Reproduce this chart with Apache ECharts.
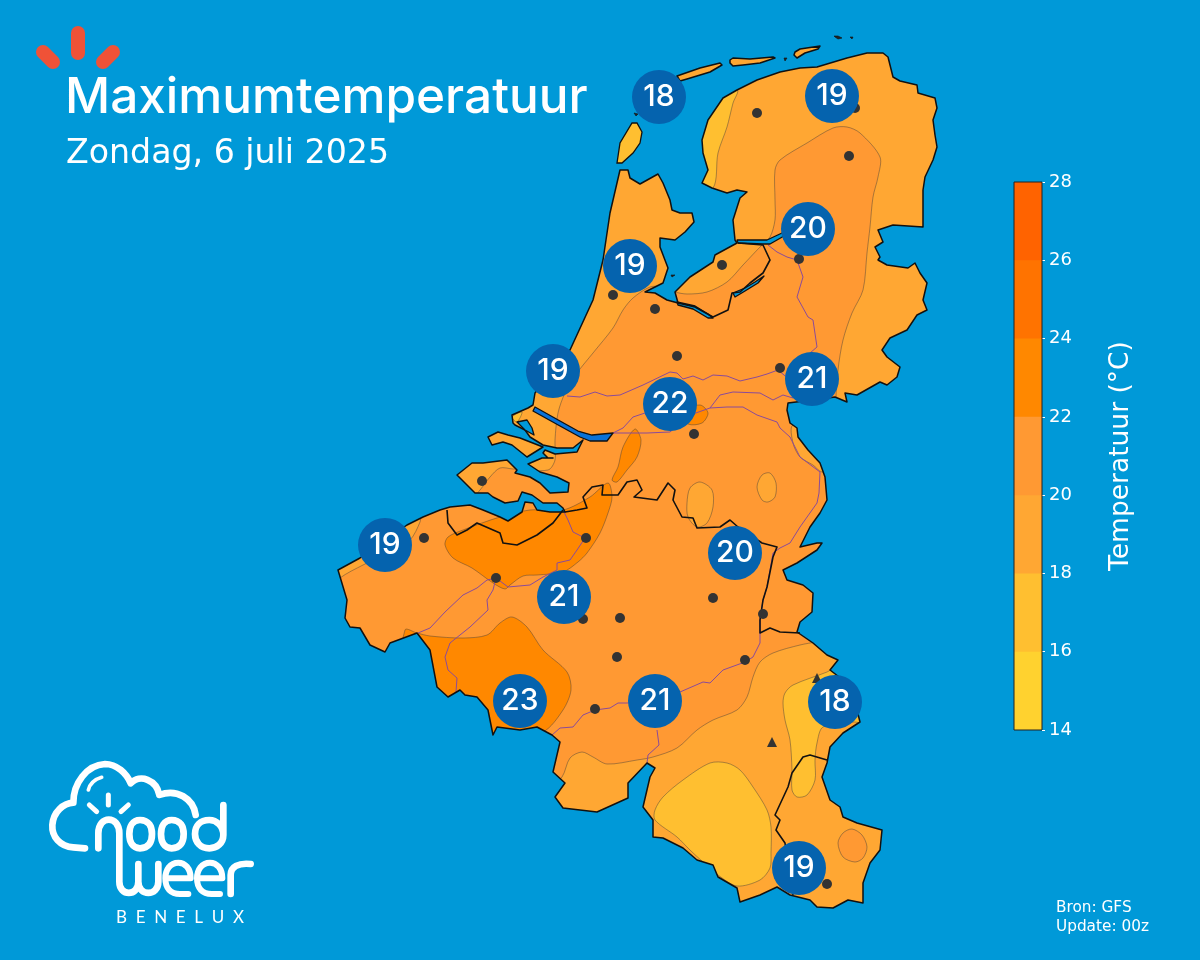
<!DOCTYPE html>
<html>
<head>
<meta charset="utf-8">
<style>html,body{margin:0;padding:0;background:#0099d8}#main{width:1200px;height:960px}</style>
<script src="https://cdn.jsdelivr.net/npm/echarts@6/dist/echarts.min.js"></script>
</head>
<body>
<div id="main"></div>
<script>
// 地图单位: 0-1200 / 0-960 的平面坐标
var landMain = [
[338,570],[360,558],[407,525],[423,517],[440,510],[450,507],[470,505],[483,510],[500,517],[508,521],[522,512],[525,502],[533,503],[537,510],[550,512],[565,512],
[563,508],[557,503],[543,503],[532,495],[522,492],[518,501],[505,503],[493,497],[488,493],[475,493],[457,475],[472,463],[483,463],[507,460],[517,470],[515,473],
[530,477],[540,483],[550,493],[568,492],[569,483],[557,477],[540,472],[528,464],[542,458],[553,458],[548,458],[543,453],[545,450],[555,454],[577,452],[583,440],
[573,448],[557,448],[543,445],[530,437],[525,430],[515,425],[513,423],[512,415],[528,408],[533,405],[535,393],[570,350],[593,300],[603,260],
[610,213],[620,170],[628,170],[630,178],[640,184],[658,174],[663,183],[670,200],[672,210],[680,213],[692,213],[694,222],[685,232],[675,240],[660,238],[660,247],
[668,268],[663,283],[655,287],[645,292],[655,293],[667,300],[678,303],[675,292],[690,277],[713,262],[715,255],[737,243],[735,240],[733,220],[740,198],[747,192],
[737,190],[727,193],[712,188],[702,183],[708,170],[703,153],[702,140],[708,120],[723,98],[737,90],[757,80],[780,72],[800,68],[817,67],[847,58],[867,53],[883,53],
[888,57],[893,77],[900,81],[917,85],[918,93],[935,98],[937,108],[933,120],[935,135],[937,147],[933,160],[925,177],[923,190],[923,227],[893,225],[878,230],[883,242],
[875,247],[880,257],[878,260],[887,265],[908,268],[915,263],[920,273],[927,283],[923,300],[927,310],[917,315],[907,330],[890,338],[882,350],[887,357],[900,367],
[897,377],[887,385],[880,382],[857,395],[845,393],[847,402],[835,397],[812,400],[788,403],[787,410],[790,423],[797,428],[798,437],[808,450],[820,463],[825,477],
[827,500],[820,513],[810,527],[800,547],[817,543],[822,543],[817,550],[797,563],[783,570],[787,580],[803,585],[813,593],[812,612],[800,622],[797,632],[813,643],[827,655],[838,660],
[830,670],[843,680],[852,690],[860,722],[843,733],[830,747],[827,763],[822,777],[830,800],[840,807],[843,817],[857,823],[882,830],[880,850],[870,863],[863,883],
[863,903],[848,900],[833,908],[817,907],[810,900],[790,895],[777,887],[760,895],[740,902],[737,888],[718,877],[713,865],[697,860],[683,848],[663,838],[653,837],
[653,820],[643,807],[650,777],[655,768],[647,763],[628,783],[628,798],[597,812],[563,808],[555,797],[565,783],[553,772],[560,742],[552,735],[537,727],[520,730],
[497,727],[493,735],[488,710],[477,697],[465,695],[460,690],[448,697],[437,687],[430,650],[417,633],[390,643],[385,652],[370,645],[360,628],[350,627],[345,618],[347,600]
];
var schouwen = [[488,437],[498,432],[508,435],[520,438],[543,447],[527,457],[512,445],[503,442],[492,445]];
var texel = [[617,163],[620,143],[632,123],[637,123],[642,132],[640,143],[633,153],[622,163]];
var vlieland = [[677,76],[700,68],[720,63],[722,65],[710,72],[687,79],[680,81]];
var terschelling = [[730,60],[733,58],[750,59],[773,57],[775,58],[760,63],[743,65],[733,66],[730,63]];
var ameland = [[795,52],[800,49],[820,46],[818,49],[805,53],[797,58],[794,55]];
var darkSpecks = [[[834,36],[838,36],[842,38],[838,39],[835,37]],[[850,37],[853,37],[852,39]],[[784,58],[787,58],[785,61]],[[634,113],[638,114],[636,116]],[[671,275],[675,275],[672,277]]];
var waters = [
  [[737,240],[767,240],[782,233],[784,236],[770,244],[763,244],[738,243]],
  [[733,293],[745,288],[755,282],[764,276],[758,283],[745,291],[735,297]],
  [[677,302],[695,306],[708,314],[713,318],[708,318],[693,309],[678,305]],
  [[517,422],[527,420],[532,428],[534,435],[525,430]]
];
var riverMouth = [[535,407],[560,421],[578,431],[592,435],[613,433],[607,441],[590,441],[580,437],[560,426],[533,411]];

// 等温带 (每块的下限温度)
var bandColors = ['#ffd22f','#ffbf30','#ffa733','#ff9933','#ff8800','#ff7300','#ff6300'];
var bandEdges = [14,16,18,20,22,24,26,28];
var band20Main = [[300,600],[330,590],[340,578],[363,565],[390,552],[410,540],[420,522],[423,508],[470,500],[480,490],[490,477],[500,468],[513,469],[548,470],[555,460],[555,440],[558,413],[565,393],[577,373],[593,353],[613,328],[623,310],[633,298],[650,287],[662,287],[675,292],[687,294],[707,292],[727,282],[743,265],[760,247],[770,237],[775,220],[775,200],[775,170],[780,160],[807,143],[833,128],[847,127],[860,133],[880,157],[878,177],[873,197],[870,227],[867,253],[863,290],[852,313],[843,340],[838,370],[836,400],[838,410],[838,640],[817,642],[800,645],[773,653],[760,662],[753,677],[747,697],[737,710],[713,720],[697,730],[677,748],[653,757],[637,760],[607,764],[593,757],[582,752],[570,758],[562,777],[550,785],[300,785]];
var band20Lux = [[838,843],[843,833],[852,829],[862,835],[867,847],[863,858],[855,862],[843,857]];
var band18Brabant = [[687,503],[690,488],[700,482],[712,490],[713,507],[707,523],[697,527],[688,517]];
var band18Peel = [[757,487],[762,475],[770,473],[776,483],[775,497],[768,502],[762,500]];
var band18Limburg = [[793,425],[793,443],[800,457],[813,465],[822,472],[840,470],[830,425]];
var band22Flanders = [[445,545],[448,537],[463,530],[500,517],[530,510],[563,510],[590,497],[608,483],[612,497],[608,513],[600,533],[587,553],[578,562],[563,572],[537,575],[523,576],[510,585],[505,589],[493,583],[472,568],[453,558]];
var band22Sliver = [[612,480],[618,467],[623,447],[635,429],[641,440],[637,457],[627,470],[617,482]];
var band22Rhine = [[700,405],[708,413],[702,423],[688,424],[680,412]];
var band22Hainaut = [[417,633],[430,636],[463,638],[487,635],[500,623],[512,617],[527,627],[543,650],[567,672],[571,690],[563,710],[543,732],[490,745],[400,700],[405,630]];
var band16Friesland = [[737,90],[733,103],[727,127],[718,153],[713,188],[690,190],[690,90]];
var band16Gaume = [[655,810],[663,797],[683,780],[710,763],[727,763],[740,770],[753,787],[767,810],[771,827],[771,853],[770,868],[760,880],[737,886],[718,875],[703,862],[690,850],[677,837],[655,820]];
var band16Venn = [[783,703],[785,693],[793,685],[827,672],[842,665],[870,700],[865,722],[853,722],[823,727],[817,743],[815,760],[815,780],[807,795],[797,797],[792,790],[792,770],[790,740],[785,720]];
var band16Goeree = [[512,417],[522,412],[517,422]];
var contourAreas = [
  [3, band20Main],[2, band18Brabant],[2, band18Peel],[2, band18Limburg],
  [4, band22Flanders],[4, band22Sliver],[4, band22Rhine],[4, band22Hainaut],
  [1, band16Friesland],[1, band16Gaume],[1, band16Venn],[1, band16Goeree],[3, band20Lux]
];

var rivers = [
  [[567,396],[580,397],[595,392],[607,396],[620,395],[643,385],[670,372],[677,373],[683,379],[693,376],[703,380],[713,375],[727,376],[740,381],[757,377],[767,374],[778,370],[790,380]],
  [[793,398],[783,395],[773,400],[760,393],[733,392],[720,395],[710,408],[690,415],[670,432],[647,433],[613,433]],
  [[613,433],[623,428],[633,417],[645,413]],
  [[710,408],[727,407],[743,407],[757,415],[777,422],[780,428],[790,437],[800,457],[820,472],[819,493],[817,503],[800,527],[790,543],[780,548],[773,553],[767,587],[763,600],[760,620],[760,643],[753,657],[745,662],[723,670],[710,683],[703,682],[680,692],[655,701],[627,703],[618,703],[610,708],[595,710],[583,715],[573,727],[560,728],[552,735]],
  [[657,730],[659,745],[648,755],[647,763]],
  [[563,510],[568,520],[573,532],[585,538],[577,550],[570,560],[557,563],[557,570],[543,577],[530,585],[508,587],[496,578],[487,580],[477,588],[463,595],[445,612],[430,628],[418,633]],
  [[496,578],[493,590],[487,600],[488,610],[470,627],[450,643],[445,657],[448,670],[457,678],[456,692]],
  [[768,245],[777,252],[787,257],[797,260],[803,277],[797,297],[808,317],[813,320],[817,347],[810,353]]
];
var borders = [
  [[447,510],[448,523],[457,535],[467,530],[477,523],[500,533],[503,543],[517,545],[537,535],[553,523],[563,510]],
  [[565,512],[577,510],[587,508],[583,497],[592,487],[603,485],[602,495],[618,495],[627,482],[637,480],[642,490],[634,497],[657,500],[668,483],[675,490],[673,500],[682,517],[693,518],[697,528],[720,527],[730,520],[738,527],[762,543],[777,547],[773,557],[767,587],[763,600],[760,620],[760,633],[770,628],[780,632],[800,633]],
  [[827,760],[810,755],[803,757],[792,773],[788,787],[775,815],[780,820],[776,830],[785,843],[793,895]],
  [[738,243],[763,245],[770,260],[763,273],[750,283],[740,292],[732,293],[728,310],[713,317],[695,307],[678,303]]
];

var cities = [[757,113],[855,108],[849,156],[799,259],[722,265],[613,295],[655,309],[677,356],[780,368],[694,434],[482,481],[424,538],[586,538],[496,578],[583,619],[620,618],[713,598],[763,614],[617,657],[745,660],[595,709],[827,884]];
var peaks = [[772,742],[817,678]];
var badgeSpots = [[659,97],[832,96],[808,229],[630,266],[553,371],[670,404],[812,379],[735,553],[385,545],[564,597],[520,701],[655,701],[835,702],[799,868]];
var badgeTemps = [18,19,20,19,19,22,21,20,19,21,23,21,18,19];

var bgColor = '#0099d8';
var mapColor = bandColors[2];

var myChart = echarts.init(document.getElementById('main'));

function pts(api, list) {
    return list.map(function (p) { return api.coord(p); });
}

// 一组多边形/折线 -> 一个 custom series
function shapes(name, list, z, makeStyle, type, clipTo, smooth) {
    return {
        name: name,
        type: 'custom',
        xAxisIndex: 0,
        yAxisIndex: 0,
        clip: false,
        silent: true,
        z: z,
        data: list.map(function (l, i) { return [l[0][0], l[0][1], i]; }),
        renderItem: function (params, api) {
            var el = {
                type: type || 'polygon',
                shape: { points: pts(api, list[params.dataIndex]), smooth: smooth || 0 },
                style: makeStyle(params.dataIndex)
            };
            if (clipTo) {
                el.clipPath = { type: 'polygon', shape: { points: pts(api, clipTo) } };
            }
            return el;
        }
    };
}

function decoration(z, build) {
    return {
        type: 'custom', coordinateSystem: 'none', silent: true, z: z, data: [[0]], clip: false,
        renderItem: build
    };
}

function strokePath(d, width, color) {
    return {
        type: 'path',
        shape: { pathData: d },
        style: { fill: 'none', stroke: color, lineWidth: width, lineCap: 'round', lineJoin: 'round' }
    };
}

var series = [
    shapes('land', [landMain, schouwen, vlieland, terschelling, ameland], 1, function () {
        return { fill: mapColor, stroke: 'none' };
    }),
    shapes('texel', [texel], 1, function () { return { fill: bandColors[1], stroke: '#111', lineWidth: 1.3 }; }),
    shapes('contours', contourAreas.map(function (a) { return a[1]; }), 2, function (i) {
        return { fill: bandColors[contourAreas[i][0]], stroke: 'rgba(60,60,60,0.55)', lineWidth: 0.8 };
    }, 'polygon', landMain, 0.3),
    shapes('rivers', rivers, 3, function () {
        return { fill: 'none', stroke: '#8a4b9a', lineWidth: 1 };
    }, 'polyline', landMain),
    shapes('coast', [landMain, schouwen, vlieland, terschelling, ameland], 4, function () {
        return { fill: 'none', stroke: '#111', lineWidth: 1.5, lineJoin: 'round' };
    }),
    shapes('waters', waters, 5, function () {
        return { fill: bgColor, stroke: '#111', lineWidth: 1.3, lineJoin: 'round' };
    }),
    shapes('mouth', [riverMouth], 5, function () {
        return { fill: '#0a72d8', stroke: '#111', lineWidth: 1.3, lineJoin: 'round' };
    }),
    shapes('specks', darkSpecks, 5, function () {
        return { fill: '#222', stroke: '#111', lineWidth: 0.6 };
    }),
    shapes('borders', borders, 6, function () {
        return { fill: 'none', stroke: '#111', lineWidth: 1.6, lineJoin: 'round' };
    }, 'polyline'),
    {
        name: 'steden', type: 'scatter', xAxisIndex: 0, yAxisIndex: 0, z: 7, silent: true,
        symbol: 'circle', symbolSize: 10,
        itemStyle: { color: '#333', opacity: 1 },
        data: cities
    },
    {
        name: 'toppen', type: 'scatter', xAxisIndex: 0, yAxisIndex: 0, z: 7, silent: true,
        symbol: 'triangle', symbolSize: 10,
        itemStyle: { color: '#333', opacity: 1 },
        data: peaks
    },
    {
        name: 'maxima', type: 'scatter', xAxisIndex: 0, yAxisIndex: 0, z: 8, silent: true,
        symbol: 'circle', symbolSize: 54,
        itemStyle: { color: '#0563ae', opacity: 1 },
        label: {
            show: true, position: 'inside', color: '#fff',
            fontFamily: 'Inter', fontWeight: 500, fontSize: 30,
            formatter: function (p) { return p.value[2]; }
        },
        data: badgeSpots.map(function (p, i) { return [p[0], p[1], badgeTemps[i]]; })
    },
    // 红色小太阳
    decoration(9, function () {
        return {
            type: 'group',
            children: [
                strokePath('M78 33 L78 53', 14, '#ef5237'),
                strokePath('M43 52 L53 62', 14, '#ef5237'),
                strokePath('M113 52 L103 62', 14, '#ef5237')
            ]
        };
    }),
    // logo
    decoration(9, function () {
        return {
            type: 'group', x: 20, y: 740, scaleX: 1 / 3, scaleY: 1 / 3,
            children: [
                strokePath('M195 325 L160 322 C120 320 95 290 97 255 C100 215 130 190 160 188 C160 130 200 75 255 72 C290 72 320 100 332 130 C360 100 410 120 418 165 C470 145 520 175 527 225', 20, '#fff'),
                strokePath('M205 150 C210 130 225 118 245 112', 11, '#fff'),
                strokePath('M265 165 L265 195 M208 195 L230 215 M325 195 L303 215', 15, '#fff'),
                strokePath('M235 325 L235 280 C235 225 298 225 298 280 L298 425 C298 470 355 470 355 425 L355 372 M355 425 C355 470 415 470 415 425 L415 372', 20, '#fff'),
                strokePath('M360 240 C337 240 328 260 328 282 C328 305 337 325 360 325 C387 325 396 305 396 282 C396 260 387 240 360 240 Z', 20, '#fff'),
                strokePath('M455 240 C432 240 423 260 423 282 C423 305 432 325 455 325 C482 325 491 305 491 282 C491 260 482 240 455 240 Z', 20, '#fff'),
                strokePath('M610 195 L610 285 C610 310 590 325 568 325 C540 325 525 305 525 282 C525 258 540 240 568 240 C590 240 610 258 610 285', 20, '#fff'),
                strokePath('M436 415 L512 415 C512 385 495 368 475 368 C450 368 436 390 436 415 C436 445 452 462 480 462 L505 462', 18, '#fff'),
                strokePath('M531 415 L607 415 C607 385 590 368 570 368 C545 368 531 390 531 415 C531 445 547 462 575 462 L600 462', 18, '#fff'),
                strokePath('M632 462 L632 405 C632 380 655 368 692 372', 20, '#fff')
            ]
        };
    })
];

// 色标: 从高到低叠放,每根柱子从 14 画到该段上限
for (var b = bandColors.length - 1; b >= 0; b--) {
    series.push({
        name: 'band' + bandEdges[b],
        type: 'bar',
        xAxisIndex: 1,
        yAxisIndex: 1,
        barWidth: '100%',
        barGap: '-100%',
        silent: true,
        z: 2,
        itemStyle: { color: bandColors[b] },
        data: [bandEdges[b + 1]]
    });
}

var option = {
    backgroundColor: bgColor,
    animation: false,
    title: [
        { text: 'Maximumtemperatuur', left: 65, top: 73, padding: 0, textStyle: { color: '#fff', fontFamily: 'Inter', fontWeight: 500, fontSize: 49.5 } },
        { text: 'Zondag, 6 juli 2025', left: 66, top: 138, padding: 0, textStyle: { color: '#fff', fontFamily: 'DejaVu Sans', fontWeight: 'normal', fontSize: 33.2 } },
        { text: 'B  E  N  E  L  U  X', left: 180, top: 909, padding: 0, textAlign: 'center', textStyle: { color: '#fff', fontFamily: 'Lato', fontWeight: 'normal', fontSize: 17 } },
        { text: 'Bron: GFS\nUpdate: 00z', left: 1056, top: 899, padding: 0, textStyle: { color: '#fff', fontFamily: 'DejaVu Sans', fontWeight: 'normal', fontSize: 15.3, lineHeight: 19 } }
    ],
    grid: [
        { left: 0, top: 0, width: 1200, height: 960 },
        { left: 1014, top: 182, width: 28, height: 548, show: true, z: 5, backgroundColor: 'transparent', borderColor: '#222', borderWidth: 1 }
    ],
    xAxis: [
        { type: 'value', gridIndex: 0, min: 0, max: 1200, show: false },
        { type: 'category', gridIndex: 1, data: ['T'], show: false }
    ],
    yAxis: [
        { type: 'value', gridIndex: 0, min: 0, max: 960, inverse: true, show: false },
        {
            type: 'value', gridIndex: 1, min: 14, max: 28, interval: 2, position: 'right',
            axisLine: { show: false },
            axisTick: { show: true, length: 3, lineStyle: { color: '#fff', width: 1 } },
            axisLabel: { color: '#fff', fontFamily: 'DejaVu Sans', fontSize: 18, margin: 7, padding: [7, 0, 0, 0] },
            splitLine: { show: false },
            name: 'Temperatuur (°C)',
            nameLocation: 'middle',
            nameRotate: 90,
            nameGap: 66,
            nameTextStyle: { color: '#fff', fontFamily: 'DejaVu Sans', fontSize: 26.5 }
        }
    ],
    series: series
};

myChart.setOption(option);
</script>
</body>
</html>
